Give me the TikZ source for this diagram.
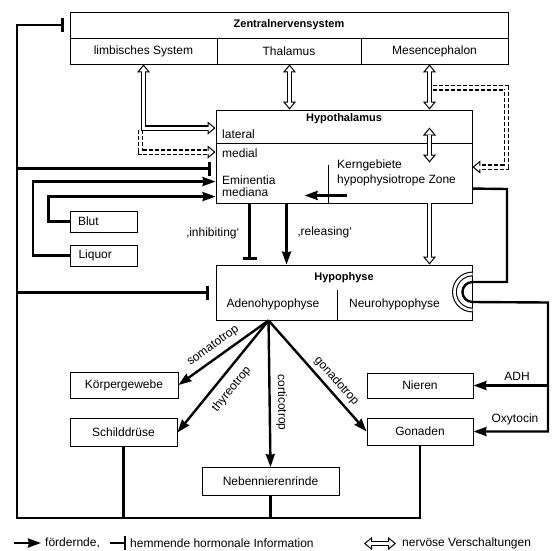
\documentclass[tikz,border=0pt]{standalone}
\usepackage{fontspec}
\setmainfont{Liberation Sans}
\usetikzlibrary{arrows.meta,calc}

\begin{document}
\begin{tikzpicture}[x=1pt, y=-1pt,
  font=\fontsize{12}{14}\selectfont,
  voll/.tip={Stealth[length=13pt,width=9pt,inset=1pt]},
  hbar/.tip={Bar[width=14pt]},
  hohl/.tip={Triangle[open,length=8pt,width=13pt,line width=1pt]},
  box/.style={draw, line width=0.9pt, inner sep=0pt},
  lbl/.style={inner sep=0pt},
  titel/.style={inner sep=0pt, font=\fontsize{11}{13}\selectfont\bfseries},
  horm/.style={line width=2.4pt, -voll},
  hemm/.style={line width=2.4pt, -hbar},
  gestr/.style={dash pattern=on 4pt off 2pt},
  nerv0/.style={line width=4.8pt, postaction={draw=white, solid, line width=2.6pt}},
  nerv1/.style={-hohl, line width=5.4pt, postaction={draw=white, solid, line width=3pt, -, shorten >=7pt}},
  nerv2/.style={hohl-hohl, line width=5.4pt, postaction={draw=white, solid, line width=3pt, -, shorten <=7pt, shorten >=7pt}}]
  \useasboundingbox (0,0) rectangle (560,550);

  \node[box, minimum width=438pt, minimum height=26pt, titel] (zns) at (289,25) {Zentralnervensystem};
  \node[box, minimum width=147pt, minimum height=26pt] (lim) at (143.5,51) {limbisches System};
  \node[box, minimum width=144pt, minimum height=26pt] (thal) at (289,51) {Thalamus};
  \node[box, minimum width=147pt, minimum height=26pt] (mes) at (434.5,51) {Mesencephalon};

  \node[box, minimum width=256pt, minimum height=93pt] (hyt) at (344,156.5) {};
  \draw[line width=0.9pt] ($(hyt.north west)+(0,34)$) -- ($(hyt.north east)+(0,34)$);
  \node[titel] (hytt) at (344,119) {Hypothalamus};
  \node[lbl, anchor=west] (lat) at (222,134) {lateral};
  \node[lbl, anchor=west] (med) at (222,153) {medial};
  \node[lbl, anchor=west, align=left, font=\fontsize{12}{12.5}\selectfont] (emin) at (222,186) {Eminentia\\mediana};
  \node[lbl, anchor=west, align=left, font=\fontsize{12}{15.5}\selectfont] (kern) at (337,173) {Kerngebiete\\hypophysiotrope Zone};

  \node[box, minimum width=256pt, minimum height=55pt] (hyp) at (344,292.5) {};
  \draw[line width=0.9pt] ($(hyp.south west)+(122,0)$) -- ++(0,-30);
  \node[titel] (hypt) at (344,278) {Hypophyse};
  \node[lbl] (adeno) at (273,304) {Adenohypophyse};
  \node[lbl] (neuro) at (394.5,304) {Neurohypophyse};

  \node[box, text width=51pt, inner xsep=8pt, minimum height=21pt, align=left] (blut) at (103.5,221.5) {Blut};
  \node[box, text width=51pt, inner xsep=8pt, minimum height=21pt, align=left] (liq) at (104,255.5) {Liquor};

  \node[box, minimum width=108pt, minimum height=26pt] (kgw) at (124,385) {Körpergewebe};
  \node[box, minimum width=107pt, minimum height=28pt] (sd) at (123.5,432.5) {Schilddrüse};
  \node[box, minimum width=106pt, minimum height=25pt] (nie) at (420,385.5) {Nieren};
  \node[box, minimum width=106pt, minimum height=27pt] (gon) at (420,431.5) {Gonaden};
  \node[box, minimum width=137pt, minimum height=28pt] (nnr) at (270.5,481.5) {Nebennierenrinde};

  \coordinate (nv) at (429.5,0);
  \coordinate (nh) at (548,0);
  \coordinate (fbT) at (17,25);
  \coordinate (fbB) at (17,518);
  \coordinate (fan) at ($(hyp.south west)+(53,0)$);

  \draw[nerv2] ($(thal.south)+(0.5,0)$) -- ($(thal.south |- hyt.north)+(0.5,0)$);
  \draw[nerv2] (mes.south -| nv) -- (hyt.north -| nv);
  \draw[nerv1, gestr] ($(lim.south)+(-3,66)$) |- ($(hyt.north west)+(0,42.5)$);
  \draw[nerv2] (lim.south) |- ($(hyt.north west)+(0,18.5)$);
  \draw[nerv1, gestr] ($(mes.south -| nv)+(3,23.5)$) -- ++(74,0) |- ($(hyt.north east)+(0,57.5)$);
  \draw[nerv2] ($(hyt.north -| nv)+(0,18)$) -- ($(hyt.north -| nv)+(0,53)$);
  \draw[nerv1] (hyt.south -| nv) -- (hyp.north -| nv);

  \draw[line width=0.8pt] ($(hyt.south west)+(113,-38)$) -- ($(hyt.south west)+(113,0)$);
  \draw[horm] ($(hyt.south west)+(131,-8)$) -- ++(-42,0);

  \draw[horm] (liq.west) -- ++(-37,0) |- ($(hyt.north west)+(0,72)$);
  \draw[horm] (blut.west) -- ++(-21,0) |- ($(hyt.north west)+(0,87)$);

  \draw[hemm, line join=miter] (gon.south) |- (fbB) -- (fbT) -- ($(zns.west)+(-6,0)$);
  \draw[line width=2.4pt] (fbB -| sd.south) -- (sd.south);
  \draw[line width=2.4pt] (fbB -| nnr.south) -- (nnr.south);
  \draw[hemm] (fbT |- hyt.north) ++(0,59) -- ($(hyt.north west)+(-5,59)$);
  \draw[hemm] (fbT |- hyp.west) -- ($(hyp.west)+(-7,0)$);

  \draw[hemm, shorten >=5pt] ($(hyt.south west)+(34,0)$) -- ($(hyp.north west)+(34,0)$);
  \node[lbl] (inh) at (213,233) {‚inhibiting‘};
  \draw[horm] ($(hyt.south west)+(71,0)$) -- ($(hyp.north west)+(71,0)$);
  \node[lbl] (rel) at (325,232) {‚releasing‘};

  \draw[horm, line join=miter] ($(hyt.north east)+(0,79)$) -- (507,189) |- ($(hyp.east)+(0,-10.5)$)
        arc[start angle=270, end angle=90, radius=10] -- (nh |- 0,302.5) |- (gon.east);
  \draw[nerv0] ($(hyp.east)+(0,-18.5)$) arc[start angle=270, end angle=90, radius=18];
  \draw[horm] (nie.east -| nh) -- (nie.east);
  \node[lbl] (adh) at (517,376) {ADH};
  \node[lbl] (oxy) at (515,419) {Oxytocin};

  \draw[horm] (fan) -- (kgw.east) node[lbl, pos=0.54, sloped, above=5pt] {somatotrop};
  \draw[horm] (fan) -- (sd.east) node[lbl, pos=0.53, sloped, below=8pt] {thyreotrop};
  \draw[horm] (fan) -- (nnr.north) node[lbl, pos=0.56, sloped, above=5pt] {corticotrop};
  \draw[horm] (fan) -- (gon.west) node[lbl, pos=0.61, sloped, above=4pt] {gonadotrop};

  \coordinate (lg) at (14,543);
  \draw[horm] (lg) -- ++(27,0);
  \node[lbl, anchor=west] (lf) at (45,543) {fördernde,};
  \draw[hemm] ($(lf.east)+(10,0)$) -- ++(16,0);
  \node[lbl, anchor=west] (lh) at (130,543) {hemmende hormonale Information};
  \draw[nerv2] (364,543.5) -- (396,543.5);
  \node[lbl, anchor=west] (ln) at (402,543) {nervöse Verschaltungen};
\end{tikzpicture}
\end{document}
